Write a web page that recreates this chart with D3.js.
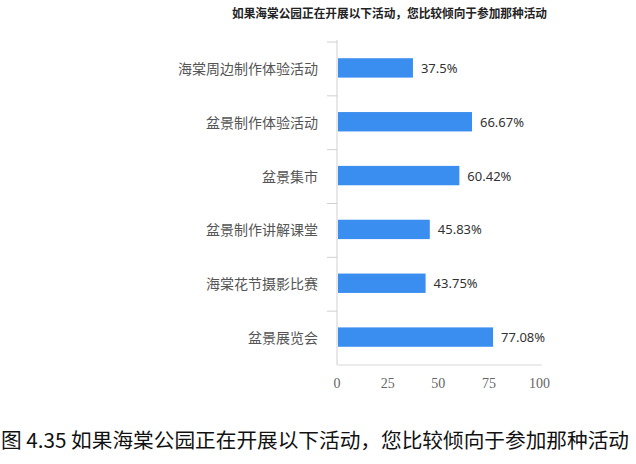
<!DOCTYPE html>
<html><head><meta charset="utf-8">
<script src="https://cdn.jsdelivr.net/npm/d3@7/dist/d3.min.js"></script>
<style>
html,body{margin:0;padding:0;background:#fff;}
svg{display:block;}
</style></head>
<body>
<svg id="chart" width="636" height="464"></svg>
<script>
const categories = ["海棠周边制作体验活动","盆景制作体验活动","盆景集市","盆景制作讲解课堂","海棠花节摄影比赛","盆景展览会"];
const values = [37.5, 66.67, 60.42, 45.83, 43.75, 77.08];
const valueLabels = ["37.5%","66.67%","60.42%","45.83%","43.75%","77.08%"];
const xTicks = [0, 25, 50, 75, 100];
const title = "如果海棠公园正在开展以下活动，您比较倾向于参加那种活动";
const caption = "图 4.35 如果海棠公园正在开展以下活动，您比较倾向于参加那种活动";

const svg = d3.select("#chart");
const x = d3.scaleLinear().domain([0, 100]).range([337, 539.5]);
const y = d3.scaleBand().domain(categories).range([42, 365]);
const barH = y.bandwidth() * 0.36;

// title
svg.append("text").attr("x", 232).attr("y", 18)
  .attr("textLength", 315).attr("lengthAdjust", "spacingAndGlyphs")
  .style("font-family", "'Noto Sans CJK SC', sans-serif").style("font-size", "12px")
  .style("font-weight", "bold").attr("fill", "#222").text(title);

// left axis
const gy = svg.append("g").attr("transform", `translate(${x(0)},0)`);
gy.append("line").attr("x1", 0).attr("x2", 0).attr("y1", 40).attr("y2", 365)
  .attr("stroke", "#d0d0d0").attr("stroke-width", 1);
const bounds = categories.map(c => y(c)).concat([365]);
gy.selectAll("line.tick").data(bounds.slice(0, 6)).join("line").attr("class", "tick")
  .attr("x1", -10).attr("x2", 0).attr("y1", d => d).attr("y2", d => d)
  .attr("stroke", "#d0d0d0");

// bottom axis line
svg.append("line").attr("x1", x(0)).attr("x2", 542).attr("y1", 365).attr("y2", 365)
  .attr("stroke", "#d8d8d8");
svg.selectAll("text.xt").data(xTicks).join("text").attr("class", "xt")
  .attr("x", d => x(d)).attr("y", 388).attr("text-anchor", "middle")
  .style("font-family", "'Liberation Serif', serif").style("font-size", "14px")
  .attr("fill", "#666").text(d => d);

// bars
const data = categories.map((c, i) => ({c, v: values[i], l: valueLabels[i]}));
svg.selectAll("rect.bar").data(data).join("rect").attr("class", "bar")
  .attr("x", x(0) + 1).attr("y", d => y(d.c) + y.bandwidth() / 2 - barH / 2 - 1)
  .attr("width", d => x(d.v) - x(0) - 1).attr("height", barH)
  .attr("fill", "#3a8ef0");

// category labels
svg.selectAll("text.cat").data(data).join("text").attr("class", "cat")
  .attr("x", 318).attr("y", d => y(d.c) + y.bandwidth() / 2 - 1)
  .attr("text-anchor", "end").attr("dominant-baseline", "central")
  .style("font-family", "'Noto Sans CJK SC', sans-serif").style("font-size", "14px")
  .attr("fill", "#555").text(d => d.c);

// value labels
svg.selectAll("text.val").data(data).join("text").attr("class", "val")
  .attr("x", d => x(d.v) + 8).attr("y", d => y(d.c) + y.bandwidth() / 2 - 1)
  .attr("dominant-baseline", "central")
  .style("font-family", "'Noto Sans', sans-serif").style("font-size", "13px")
  .attr("fill", "#333").text(d => d.l);

// caption
svg.append("text").attr("x", 1).attr("y", 448)
  .attr("textLength", 628).attr("lengthAdjust", "spacingAndGlyphs")
  .style("font-family", "'Noto Sans CJK SC', sans-serif").style("font-size", "20px")
  .attr("fill", "#111").text(caption);
</script>
</body></html>
